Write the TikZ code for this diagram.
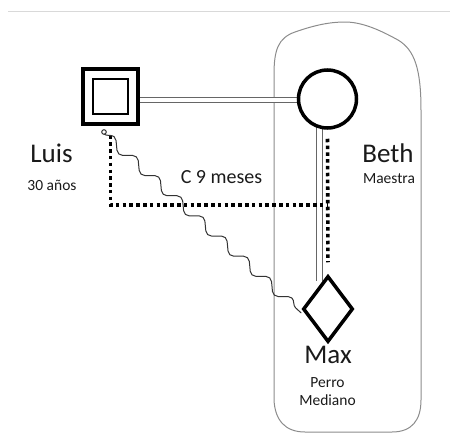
\documentclass[tikz,border=0pt]{standalone}
\usepackage{fontspec}
\setmainfont{Carlito}
\usetikzlibrary{shapes.geometric,decorations.pathmorphing}
\definecolor{txt}{HTML}{1a1a1a}
\tikzset{
  sym/.style={draw=black,fill=white,inner sep=0pt},
  marriage/.style={draw=black!60,line width=0.9pt,double=white,double distance=4.2pt},
  rail/.style={draw=black!60,line width=0.9pt},
  dotline/.style={draw=black,line width=3.6pt,dash pattern=on 3.5pt off 3.3pt},
  wavy/.style={draw=black!80,line width=1pt,decorate,decoration={snake,amplitude=4.8pt,segment length=30pt}},
  big/.style={font=\fontsize{27}{30}\selectfont,text=txt,inner sep=0pt,anchor=base},
  small/.style={font=\fontsize{15.5}{17}\selectfont,text=txt,inner sep=0pt,anchor=base},
  mid/.style={font=\fontsize{20}{22}\selectfont,text=txt,inner sep=0pt,anchor=base},
}
\begin{document}
\begin{tikzpicture}[x=1pt,y=-1pt]
\useasboundingbox (0,0) rectangle (451,434);
% top rule
\draw[black!15,line width=1pt] (8,11) -- (450,11);
% household outline
\draw[black!45,line width=1pt] (274,400) -- (274,75)
  .. controls (274,50) and (278,38) .. (295,32)
  .. controls (315,25) and (330,22) .. (345,22)
  .. controls (362,22) and (380,30) .. (398,40)
  .. controls (415,50) and (421,70) .. (421,110)
  -- (421,400)
  .. controls (421,420) and (412,432) .. (392,432)
  -- (305,432)
  .. controls (285,432) and (275,420) .. (274,400) -- cycle;
% coordinates
\coordinate (vtop) at (319.5,126);
\coordinate (vbot) at (319.5,281);
\coordinate (corner) at (110,205);
\coordinate (curl) at (104,132);
% connectors (drawn first)
\draw[marriage] (140,100) -- (298,100);
\draw[rail] ([xshift=-2.6pt]vtop) -- ([xshift=-2.6pt]vbot);
\draw[rail] ([xshift=2.6pt]vtop) -- ([xshift=2.6pt]vbot);
% symbols
\node[sym,minimum size=55pt,line width=4pt] (luissq) at (110.5,96) {};
\node[sym,minimum size=35pt,line width=2pt] (luisin) at (110,96) {};
\node[sym,circle,minimum size=58pt,line width=3.5pt] (beth) at (327.5,99) {};
\node[sym,diamond,minimum width=50pt,minimum height=66pt,line width=3.5pt] (max) at (328,309) {};
% dotted lines
\draw[dotline] ([yshift=-10pt]luissq.south) |- (corner -| beth.south);
\draw[dotline,shorten <=9pt,shorten >=12pt] (beth.south) -- (max.north);
% wavy line
\draw[black!80,line width=1pt] (curl) circle (2.3pt);
\draw[wavy] ([yshift=-2pt]curl) -- ([yshift=-4pt]max.west);
% labels
\node[big] (tluis) at (51.5,162) {Luis};
\node[small] (tluis2) at (52,190) {30 años};
\node[mid] (tc) at (221.5,183) {C 9 meses};
\node[big] (tbeth) at (388,162) {Beth};
\node[small] (tbeth2) at (389,183) {Maestra};
\node[big] (tmax) at (328,363) {Max};
\node[small] (tmax2) at (327.5,387) {Perro};
\node[small] (tmax3) at (327.5,405) {Mediano};
\end{tikzpicture}
\end{document}
